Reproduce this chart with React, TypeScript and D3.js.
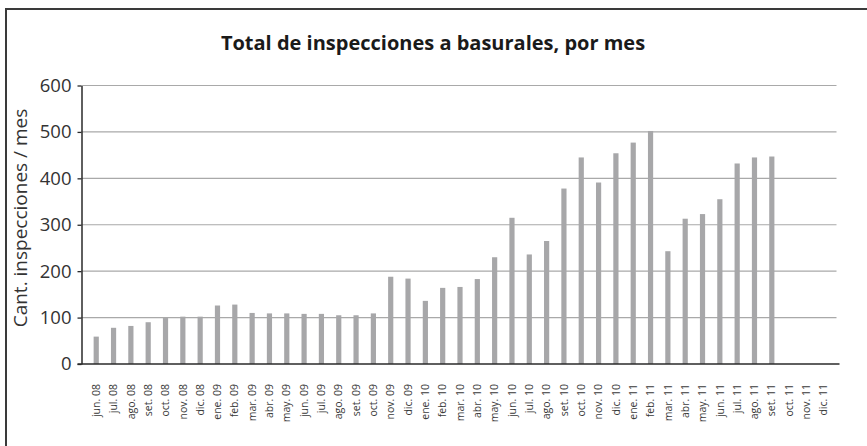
import React, { useEffect, useRef } from "react";
import * as d3 from "d3";

const months = [
  "jun. 08", "jul. 08", "ago. 08", "set. 08", "oct. 08", "nov. 08", "dic. 08",
  "ene. 09", "feb. 09", "mar. 09", "abr. 09", "may. 09", "jun. 09", "jul. 09",
  "ago. 09", "set. 09", "oct. 09", "nov. 09", "dic. 09",
  "ene. 10", "feb. 10", "mar. 10", "abr. 10", "may. 10", "jun. 10", "jul. 10",
  "ago. 10", "set. 10", "oct. 10", "nov. 10", "dic. 10",
  "ene. 11", "feb. 11", "mar. 11", "abr. 11", "may. 11", "jun. 11", "jul. 11",
  "ago. 11", "set. 11", "oct. 11", "nov. 11", "dic. 11",
];

// null = no data yet
const inspections: (number | null)[] = [
  59, 78, 82, 90, 99, 102, 102,
  126, 128, 110, 109, 109, 108, 108,
  105, 105, 109, 188, 184,
  136, 164, 166, 183, 230, 315, 236,
  265, 378, 445, 391, 454,
  477, 502, 243, 313, 323, 355, 432,
  445, 447, null, null, null,
];

const yTicks = [0, 100, 200, 300, 400, 500, 600];

const title = "Total de inspecciones a basurales, por mes";
const yLabel = "Cant. inspecciones / mes";

const W = 867;
const H = 446;
const font = "'Open Sans', 'Noto Sans', sans-serif";

const Chart = () => {
  const ref = useRef<SVGSVGElement>(null);

  useEffect(() => {
    const svg = d3.select(ref.current);
    svg.selectAll("*").remove();

    const left = 81.5;
    const right = 838.5;
    const top = 85.5;
    const bottom = 364;

    // frame (only top and left edges show in the original)
    svg.append("rect")
      .attr("x", 6).attr("y", 9)
      .attr("width", W + 20).attr("height", H + 20)
      .attr("fill", "none")
      .attr("stroke", "#3a3a3a")
      .attr("stroke-width", 2);

    svg.append("text")
      .attr("x", 433).attr("y", 50)
      .attr("text-anchor", "middle")
      .attr("font-family", font)
      .attr("font-weight", "bold")
      .attr("font-size", 20)
      .attr("fill", "#1a1a1a")
      .text(title);

    const x = d3.scaleBand().domain(months).range([left, right]).padding(0.7);
    const y = d3.scaleLinear().domain([0, 600]).range([bottom, top]);

    // gridlines
    svg.append("g")
      .selectAll("line")
      .data(yTicks.filter((t) => t > 0))
      .enter().append("line")
      .attr("x1", left).attr("x2", right - 2)
      .attr("y1", (d) => y(d)).attr("y2", (d) => y(d))
      .attr("stroke", "#a9a9a9")
      .attr("stroke-width", 1.2);

    svg.append("g")
      .selectAll("rect")
      .data(months.map((m, i) => ({ m, v: inspections[i] })).filter((d) => d.v !== null))
      .enter().append("rect")
      .attr("x", (d) => x(d.m)!)
      .attr("y", (d) => y(d.v as number))
      .attr("width", x.bandwidth())
      .attr("height", (d) => bottom - y(d.v as number))
      .attr("fill", "#a7a7a9");

    // y axis
    const ya = svg.append("g")
      .attr("transform", `translate(${left},0)`)
      .call(d3.axisLeft(y).tickValues(yTicks).tickSize(4).tickPadding(6).tickSizeOuter(0));
    ya.select(".domain").attr("stroke", "#2a2a2a").attr("stroke-width", 1.5);
    ya.selectAll(".tick line").attr("stroke", "#2a2a2a").attr("stroke-width", 1.3);
    ya.selectAll(".tick text")
      .attr("font-family", font)
      .attr("font-size", 18.5)
      .attr("fill", "#333");

    // x axis
    svg.append("line")
      .attr("x1", left - 4).attr("x2", right + 1)
      .attr("y1", bottom).attr("y2", bottom)
      .attr("stroke", "#2a2a2a")
      .attr("stroke-width", 1.5);

    svg.append("g")
      .selectAll("text")
      .data(months)
      .enter().append("text")
      .attr("transform", (d) => `translate(${x(d)! + x.bandwidth() / 2},384) rotate(-90)`)
      .attr("text-anchor", "end")
      .attr("dy", "0.35em")
      .attr("font-family", font)
      .attr("font-size", 10.5)
      .attr("fill", "#3a3a3a")
      .text((d) => d);

    svg.append("text")
      .attr("transform", `translate(27,218) rotate(-90)`)
      .attr("text-anchor", "middle")
      .attr("font-family", font)
      .attr("font-size", 19)
      .attr("fill", "#333")
      .text(yLabel);
  }, []);

  return <svg ref={ref} width={W} height={H} style={{ position: "absolute", left: 0, top: 0, background: "#fff" }} />;
};

const App = () => <Chart />;

export default App;
